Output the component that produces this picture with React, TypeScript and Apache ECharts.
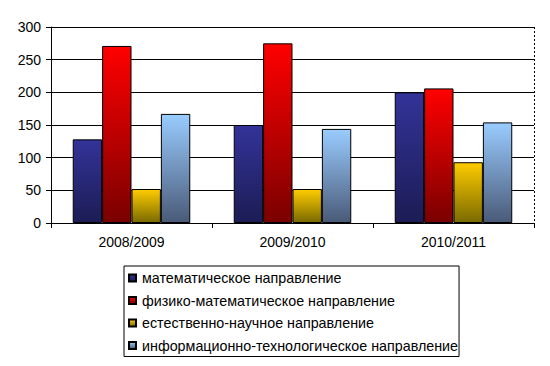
import React, { useEffect, useRef } from "react";
import * as echarts from "echarts";

const categories = ["2008/2009", "2009/2010", "2010/2011"];
const seriesNames = [
  "математическое направление",
  "физико-математическое направление",
  "естественно-научное направление",
  "информационно-технологическое направление",
];
const mathValues = [128, 150, 200];
const physMathValues = [271, 275, 206];
const naturalValues = [52, 52, 93];
const itValues = [167, 144, 154];
const yTicks = [0, 50, 100, 150, 200, 250, 300];

const topColors = ["#333399", "#FF0000", "#FFCC00", "#99CCFF"];
const bottomColors = ["#1c1c55", "#7a0000", "#7a6a00", "#4a5a78"];

export default function App() {
  const ref = useRef<HTMLDivElement>(null);
  useEffect(() => {
    if (!ref.current) return;
    const chart = echarts.init(ref.current, null, { renderer: "svg" });
    const font = "'Liberation Sans', Arial, sans-serif";
    const data = [mathValues, physMathValues, naturalValues, itValues];
    chart.setOption({
      animation: false,
      backgroundColor: "#ffffff",
      textStyle: { fontFamily: font },
      grid: { left: 51, right: 16, top: 27, bottom: 143, containLabel: false },
      xAxis: {
        type: "category",
        data: categories,
        axisLine: { lineStyle: { color: "#000", width: 1 } },
        axisTick: { show: true, length: 5, lineStyle: { color: "#000" }, alignWithLabel: false },
        axisLabel: { color: "#000", fontSize: 14, fontFamily: font, margin: 12 },
        splitLine: { show: false },
      },
      yAxis: {
        type: "value",
        min: yTicks[0],
        max: yTicks[yTicks.length - 1],
        interval: 50,
        axisLine: { show: true, lineStyle: { color: "#000", width: 1 } },
        axisTick: { show: true, length: 5, lineStyle: { color: "#000" } },
        axisLabel: { color: "#000", fontSize: 14, fontFamily: font, margin: 10 },
        splitLine: { show: true, lineStyle: { color: "#000", width: 1 } },
      },
      legend: {
        orient: "vertical",
        left: 124,
        top: 266,
        data: seriesNames,
        itemWidth: 7,
        itemHeight: 7,
        itemGap: 6.5,
        borderColor: "#000",
        borderWidth: 1,
        padding: [4, 1, 3, 4],
        textStyle: { color: "#000", fontSize: 14.3, fontFamily: font, lineHeight: 16, padding: [0, 0, 0, 1] },
        icon: "rect",
      },
      series: [
        ...seriesNames.map((name, i) => ({
          name,
          type: "bar",
          data: data[i],
          barGap: "0%",
          barCategoryGap: "27%",
          itemStyle: {
            color: new echarts.graphic.LinearGradient(0, 0, 0, 1, [
              { offset: 0, color: topColors[i] },
              { offset: 1, color: bottomColors[i] },
            ]),
            borderColor: "#000",
            borderWidth: 1,
          },
        })),
      ],
      graphic: [
        {
          type: "line",
          shape: { x1: 534.5, y1: 27, x2: 534.5, y2: 223 },
          style: { stroke: "#000", lineWidth: 1, lineDash: [2, 2] },
        },
      ],
    });
    return () => chart.dispose();
  }, []);
  return <div ref={ref} style={{ width: 550, height: 366, position: "absolute", left: 0, top: 0 }} />;
}
